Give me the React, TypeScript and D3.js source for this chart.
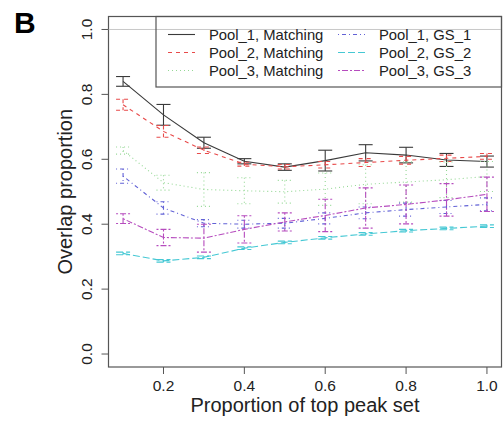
import React from "react";
import * as d3 from "d3";

const proportions = [0.1, 0.2, 0.3, 0.4, 0.5, 0.6, 0.7, 0.8, 0.9, 1.0];
const pool1Matching = [0.840, 0.737, 0.651, 0.594, 0.576, 0.596, 0.620, 0.613, 0.598, 0.593];
const pool1MatchingErr = [0.015, 0.032, 0.017, 0.008, 0.010, 0.032, 0.025, 0.024, 0.020, 0.017];
const pool2Matching = [0.768, 0.686, 0.628, 0.585, 0.577, 0.583, 0.590, 0.597, 0.603, 0.609];
const pool2MatchingErr = [0.017, 0.018, 0.010, 0.006, 0.007, 0.010, 0.012, 0.012, 0.010, 0.009];
const pool3Matching = [0.627, 0.528, 0.507, 0.503, 0.500, 0.508, 0.523, 0.530, 0.537, 0.547];
const pool3MatchingErr = [0.011, 0.023, 0.052, 0.040, 0.035, 0.050, 0.060, 0.062, 0.055, 0.046];
const pool1GS1 = [0.548, 0.450, 0.403, 0.400, 0.403, 0.418, 0.435, 0.445, 0.453, 0.461];
const pool1GS1Err = [0.022, 0.019, 0.011, 0.012, 0.015, 0.017, 0.018, 0.020, 0.020, 0.020];
const pool2GS2 = [0.310, 0.287, 0.298, 0.326, 0.344, 0.358, 0.370, 0.380, 0.387, 0.394];
const pool2GS2Err = [0.004, 0.004, 0.004, 0.004, 0.004, 0.004, 0.004, 0.004, 0.004, 0.004];
const pool3GS3 = [0.417, 0.359, 0.357, 0.384, 0.407, 0.427, 0.450, 0.461, 0.475, 0.492];
const pool3GS3Err = [0.015, 0.025, 0.043, 0.042, 0.028, 0.050, 0.062, 0.060, 0.050, 0.053];

const seriesNames = [
  "Pool_1, Matching",
  "Pool_2, Matching",
  "Pool_3, Matching",
  "Pool_1, GS_1",
  "Pool_2, GS_2",
  "Pool_3, GS_3",
];
const xTicks = [0.2, 0.4, 0.6, 0.8, 1.0];
const yTicks = [0.0, 0.2, 0.4, 0.6, 0.8, 1.0];

const series = [
  { name: seriesNames[0], values: pool1Matching, err: pool1MatchingErr, color: "#3a3a3a", dash: "" },
  { name: seriesNames[1], values: pool2Matching, err: pool2MatchingErr, color: "#e84a4a", dash: "4 4" },
  { name: seriesNames[2], values: pool3Matching, err: pool3MatchingErr, color: "#95d895", dash: "1 3" },
  { name: seriesNames[3], values: pool1GS1, err: pool1GS1Err, color: "#6262d6", dash: "1 3 4 3" },
  { name: seriesNames[4], values: pool2GS2, err: pool2GS2Err, color: "#45c8d4", dash: "7 3" },
  { name: seriesNames[5], values: pool3GS3, err: pool3GS3Err, color: "#b64cbe", dash: "2 2 6 2" },
];

const W = 503;
const H = 423;
const plotL = 108.5;
const plotR = 501.5;
const plotT = 16.5;
const plotB = 367;
const font = "Liberation Sans, Arial, Helvetica, sans-serif";

export default function App() {
  const x = d3.scaleLinear().domain([0.064, 1.036]).range([plotL, plotR]);
  const y = d3.scaleLinear().domain([-0.04, 1.04]).range([plotB, plotT]);
  const line = d3
    .line<number>()
    .x((_, i) => x(proportions[i]))
    .y((d) => y(d));
  const cap = 7;
  const legendCols = [
    { lineX1: 168, lineX2: 195, textX: 209 },
    { lineX1: 338, lineX2: 365, textX: 379 },
  ];
  const legendRows = [34.5, 52.5, 70.5];

  return (
    <svg width={W} height={H} style={{ position: "absolute", left: 0, top: 0 }}>
      <rect x={0} y={0} width={W} height={H} fill="#ffffff" />
      <text x={14} y={33} fontFamily={font} fontWeight="bold" fontSize={30} fill="#000">
        B
      </text>
      {/* plot box */}
      <rect
        x={plotL}
        y={plotT}
        width={plotR - plotL}
        height={plotB - plotT}
        fill="none"
        stroke="#555"
        strokeWidth={1.2}
      />
      {/* reference line at 1 */}
      <line x1={plotL} x2={plotR} y1={y(1)} y2={y(1)} stroke="#c8c8c8" strokeWidth={1} />
      {/* x axis */}
      {xTicks.map((t) => (
        <g key={"xt" + t}>
          <line x1={x(t)} x2={x(t)} y1={plotB} y2={plotB + 7} stroke="#555" strokeWidth={1} />
          <text
            x={x(t)}
            y={391}
            textAnchor="middle"
            fontFamily={font}
            fontSize={15.5}
            fill="#222"
          >
            {t.toFixed(1)}
          </text>
        </g>
      ))}
      <text x={(plotL + plotR) / 2} y={412} textAnchor="middle" fontFamily={font} fontSize={20} fill="#222">
        Proportion of top peak set
      </text>
      {/* y axis */}
      {yTicks.map((t) => (
        <g key={"yt" + t}>
          <line x1={plotL - 7} x2={plotL} y1={y(t)} y2={y(t)} stroke="#555" strokeWidth={1} />
          <text
            transform={`translate(92,${y(t)}) rotate(-90)`}
            textAnchor="middle"
            fontFamily={font}
            fontSize={15.5}
            fill="#222"
          >
            {t.toFixed(1)}
          </text>
        </g>
      ))}
      <text
        transform={`translate(72,${(plotT + plotB) / 2}) rotate(-90)`}
        textAnchor="middle"
        fontFamily={font}
        fontSize={20}
        fill="#222"
      >
        Overlap proportion
      </text>
      {/* series */}
      {series.map((s) => (
        <g key={s.name}>
          <path d={line(s.values) || ""} fill="none" stroke={s.color} strokeWidth={1.1} strokeDasharray={s.dash} />
          {s.values.map((v, i) => {
            const cx = x(proportions[i]);
            const top = y(v + s.err[i]);
            const bot = y(v - s.err[i]);
            return (
              <g key={i} stroke={s.color} strokeWidth={1.1} strokeDasharray={s.dash}>
                <line x1={cx} x2={cx} y1={top} y2={bot} />
                <line x1={cx - cap} x2={cx + cap} y1={top} y2={top} />
                <line x1={cx - cap} x2={cx + cap} y1={bot} y2={bot} />
              </g>
            );
          })}
        </g>
      ))}
      {/* legend */}
      <rect x={156} y={plotT} width={plotR - 156} height={87 - plotT} fill="none" stroke="#555" strokeWidth={1.2} />
      {series.map((s, i) => {
        const col = legendCols[Math.floor(i / 3)];
        const ry = legendRows[i % 3];
        return (
          <g key={"lg" + i}>
            <line
              x1={col.lineX1}
              x2={col.lineX2}
              y1={ry}
              y2={ry}
              stroke={s.color}
              strokeWidth={1.1}
              strokeDasharray={s.dash}
            />
            <text x={col.textX} y={ry + 5} fontFamily={font} fontSize={14.8} fill="#222">
              {s.name}
            </text>
          </g>
        );
      })}
    </svg>
  );
}
